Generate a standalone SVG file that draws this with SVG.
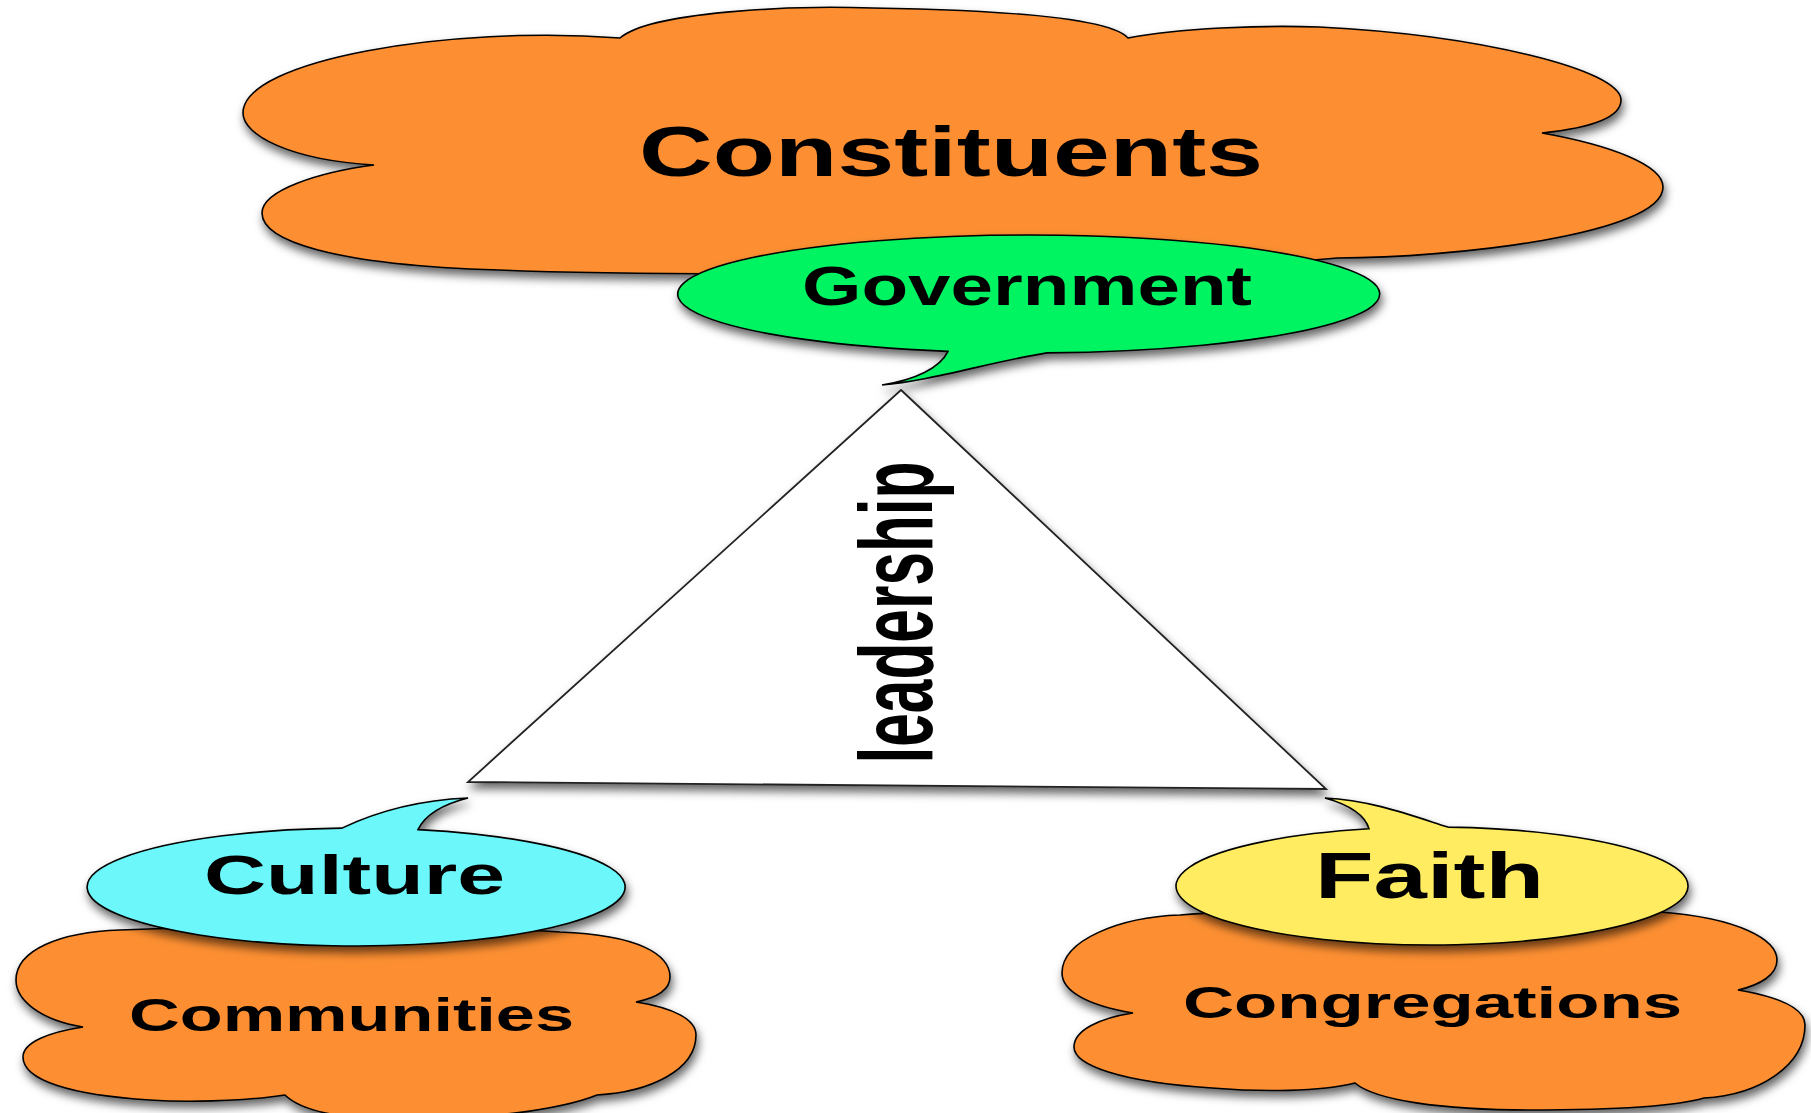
<svg xmlns="http://www.w3.org/2000/svg" width="1811" height="1113" viewBox="0 0 1811 1113">
<defs>
<filter id="sh" x="-10%" y="-10%" width="120%" height="130%">
<feDropShadow dx="2" dy="6" stdDeviation="5" flood-color="#000" flood-opacity="0.6"/>
</filter>
<style>
.cloud{fill:#FD8F33;stroke:#000;stroke-width:1.6;filter:url(#sh)}
.bal{stroke:#000;stroke-width:1.6;filter:url(#sh)}
.t{font-family:"Liberation Sans",Arial,sans-serif;font-weight:bold;fill:#000;text-anchor:middle}
</style>
</defs>
<rect width="1811" height="1113" fill="#fff"/>
<g id="constituents">
<path class="cloud" d="M 374,165 C 290,160 243,135 243,113 C 243,60 450,25 620,38 C 650,12 790,5 872,8 C 1000,10 1110,18 1128,38 C 1180,28 1260,25 1319,27 C 1480,35 1621,70 1621,100 C 1621,118 1590,128 1542,133 C 1610,145 1663,165 1663,187 C 1663,235 1450,258 1337,258 C 1200,272 700,278 499,270 C 330,265 262,240 262,213 C 262,190 320,172 374,165 Z"/>
<text class="t" x="951" y="176" font-size="70" textLength="624" lengthAdjust="spacingAndGlyphs">Constituents</text>
</g>
<g id="government">
<path class="bal" fill="#05F462" d="M 1047,352.9 A 351 59 0 1 0 948,351.4 C 940,368 915,380 882,385 C 930,381 990,362 1047,352.9 Z"/>
<text class="t" x="1027" y="305" font-size="55" textLength="450" lengthAdjust="spacingAndGlyphs">Government</text>
</g>
<g id="leadership">
<path fill="#fff" stroke="#222" stroke-width="1.8" filter="url(#sh)" d="M 901,390 L 1326,789 L 468,782 Z"/>
<text class="t" transform="translate(932,612.5) rotate(-90)" x="0" y="0" font-size="103" textLength="302" lengthAdjust="spacingAndGlyphs">leadership</text>
</g>
<g id="communities">
<path class="cloud" d="M 83,1027 C 40,1020 16,1000 16,980 C 16,950 60,932 120,930 C 250,925 450,925 560,932 C 640,935 670,955 670,977 C 670,990 655,998 636,1002 C 675,1008 696,1020 696,1035 C 696,1070 650,1092 597,1095 C 560,1110 480,1120 400,1120 C 340,1120 300,1110 285,1095 C 240,1102 180,1102 150,1100 C 70,1095 23,1080 23,1057 C 23,1042 50,1032 83,1027 Z"/>
<text class="t" x="351.5" y="1031" font-size="47" textLength="445" lengthAdjust="spacingAndGlyphs">Communities</text>
</g>
<g id="culture">
<path class="bal" fill="#6CF7FA" d="M 342,828.1 A 269 59 0 1 0 418,829.6 C 425,815 440,805 468,798 C 420,800 380,810 342,828.1 Z"/>
<text class="t" x="354.5" y="894" font-size="55" textLength="301" lengthAdjust="spacingAndGlyphs">Culture</text>
</g>
<g id="congregations">
<path class="cloud" d="M 1133,1013 C 1085,1005 1062,990 1062,973 C 1062,940 1120,917 1180,915 C 1300,905 1550,905 1660,912 C 1740,918 1777,940 1777,960 C 1777,975 1760,985 1738,990 C 1785,998 1805,1010 1805,1025 C 1805,1065 1760,1095 1704,1098 C 1670,1108 1600,1110 1530,1110 C 1440,1110 1375,1100 1355,1083 C 1320,1092 1260,1092 1212,1088 C 1120,1082 1074,1065 1074,1047 C 1074,1030 1100,1018 1133,1013 Z"/>
<text class="t" x="1432.5" y="1018" font-size="44" textLength="499" lengthAdjust="spacingAndGlyphs">Congregations</text>
</g>
<g id="faith">
<path class="bal" fill="#FFEC61" d="M 1369,828.8 A 256 59 0 1 0 1448,827.1 C 1410,815 1370,800 1325,798 C 1350,805 1365,815 1369,828.8 Z"/>
<text class="t" x="1429.5" y="898" font-size="65" textLength="229" lengthAdjust="spacingAndGlyphs">Faith</text>
</g>
<g id="connectors"></g>
</svg>
